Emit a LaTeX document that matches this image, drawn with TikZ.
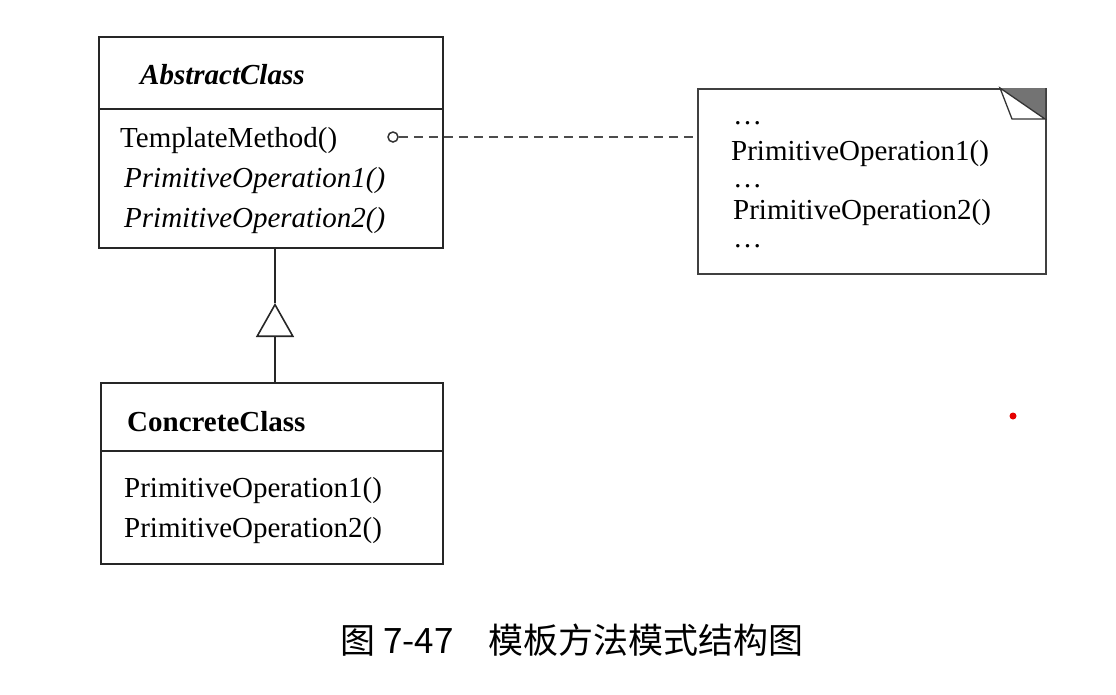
\documentclass[tikz,border=0pt]{standalone}
\usepackage{fontspec}
\setmainfont{Liberation Serif}
\newfontfamily\cjk{Noto Sans CJK SC}
\usetikzlibrary{arrows.meta}
\begin{document}
\begin{tikzpicture}[x=1pt,y=-1pt,
  box/.style={draw=black!85, line width=1.8pt, anchor=north west, inner sep=0pt},
  txt/.style={anchor=base west, inner sep=0pt, font=\fontsize{29}{34}\selectfont},
  dots/.style={anchor=base west, inner sep=0pt, font=\fontsize{29}{34}\selectfont, text height=4pt, text depth=0pt},
  link/.style={line width=1.8pt, draw=black!85}]
\useasboundingbox (0,0) rectangle (1116,694);
% AbstractClass
\node[box, minimum width=344pt, minimum height=211pt] (abs) at (98,36) {};
\draw[link] (98,109) -- (442,109);
\node[txt, font=\fontsize{29}{34}\selectfont\bfseries\itshape] (absname) at (140,84) {AbstractClass};
\node[txt] (tm) at (120,147) {TemplateMethod()};
\node[txt, font=\fontsize{29}{34}\selectfont\itshape] (ap1) at (124,187) {PrimitiveOperation1()};
\node[txt, font=\fontsize{29}{34}\selectfont\itshape] (ap2) at (124,227) {PrimitiveOperation2()};
\node[draw=black!80, line width=1.5pt, circle, minimum size=10pt, inner sep=0pt] (dot) at (393,137) {};
% Note
\node[box, draw=black!75, minimum width=348pt, minimum height=185pt] (note) at (697,88) {};
\coordinate (na) at (1000,88);
\coordinate (nb) at (1045,88);
\coordinate (nc) at (1045,119);
\coordinate (nd) at (1012,119);
\fill[black!55] (na) -- (nb) -- (nc) -- cycle;
\fill[white] (na) -- (nd) -- (nc) -- cycle;
\draw[black!80, line width=1.3pt] (na) -- (nd) -- (nc) -- cycle;
\node[dots] (n0) at (733,124) {\dots};
\node[txt] (n1) at (731,160) {PrimitiveOperation1()};
\node[dots] (n2) at (733,187) {\dots};
\node[txt] (n3) at (733,219) {PrimitiveOperation2()};
\node[dots] (n4) at (733,247) {\dots};
\draw[black!70, line width=2pt, dash pattern=on 9pt off 6pt] (dot.east) -- (note.west |- dot.east);
% ConcreteClass
\node[box, minimum width=342pt, minimum height=181pt] (con) at (100,382) {};
\draw[link] (100,451) -- (442,451);
\node[txt, font=\fontsize{29}{34}\selectfont\bfseries] (conname) at (127,431) {ConcreteClass};
\node[txt] (cp1) at (124,497) {PrimitiveOperation1()};
\node[txt] (cp2) at (124,537) {PrimitiveOperation2()};
% Inheritance
\coordinate (tip) at (275,303);
\draw[link] (275,247) -- (tip);
\draw[link, -{Triangle[open, length=34pt, width=38pt, line width=1.6pt]}] (275,382) -- (tip);
% Caption
\node[anchor=west, inner sep=0pt, font=\cjk\fontsize{35}{40}\selectfont] (cap) at (340,640) {图 7-47　模板方法模式结构图};
\fill[red!90!black] (1013,416) circle (3.5);
\end{tikzpicture}
\end{document}
